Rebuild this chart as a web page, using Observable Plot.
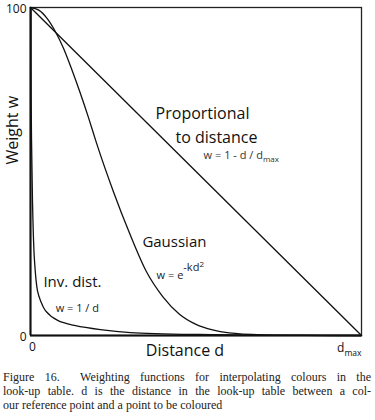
<!DOCTYPE html>
<html>
<head>
<meta charset="utf-8">
<script src="https://cdn.jsdelivr.net/npm/d3@7"></script>
<script src="https://cdn.jsdelivr.net/npm/@observablehq/plot@0.6"></script>
<style>
  body { margin: 0; background: #fff; width: 375px; }
  #chart svg { display: block; }
  .cap { font-family: "Liberation Serif", serif; font-size: 12px; line-height: 14px; color: #222; width: 368px; margin-left: 3px; }
  .cap div { text-align: justify; text-align-last: justify; white-space: nowrap; }
  .cap div.last { text-align-last: left; }
</style>
</head>
<body>
<div id="chart"></div>
<div class="cap" style="margin-top:5px">
  <div>Figure 16.&nbsp; Weighting functions for interpolating colours in the</div>
  <div>look-up table. d is the distance in the look-up table between a col-</div>
  <div class="last">our reference point and a point to be coloured</div>
</div>
<script>
// Proportional to distance
const linD = [0, 1];
const linW = [100, 0];
// Gaussian
const gaussD = [0, 0.025, 0.05, 0.075, 0.1, 0.125, 0.15, 0.175, 0.2, 0.25, 0.3, 0.35, 0.4, 0.45, 0.5, 0.55, 0.6, 0.7, 0.8, 0.9, 1.0];
const gaussW = [100, 99.2, 96.7, 92.7, 87.5, 81, 74, 66.5, 58.5, 44, 31, 19.5, 11.8, 6.5, 3.4, 1.7, 0.8, 0.2, 0.05, 0, 0];
// Inverse distance
const invD = [0.0015, 0.002, 0.006, 0.012, 0.021, 0.030, 0.045, 0.082, 0.136, 0.211, 0.302, 0.51, 0.82, 1.0];
const invW = [100, 71.6, 41, 22.9, 13.7, 10.7, 7.6, 4.6, 3.0, 1.8, 0.9, 0.3, 0.1, 0];
// ticks
const xTickValues = [0, 1];
const xTickLabels = ["0", "dmax"];
const yTickValues = [0, 100];
const yTickLabels = ["0", "100"];

const toRows = (xs, ys) => xs.map((x, i) => ({x, y: ys[i]}));
const lin = toRows(linD, linW);
const gauss = toRows(gaussD, gaussW);
const inv = toRows(invD, invW);

const lbl = (text, x, y, size, fill = "#111") => Plot.text([text], {x: () => x, y: () => y, text: d => d, textAnchor: "start", fontSize: size, fill});

const svg = Plot.plot({
  width: 375,
  height: 365,
  marginLeft: 30,
  marginRight: 14,
  marginTop: 7,
  marginBottom: 30,
  style: {fontFamily: "'Open Sans', sans-serif", background: "#fff", color: "#111"},
  x: {domain: [0, 1], axis: null},
  y: {domain: [0, 100], axis: null},
  marks: [
    Plot.frame({stroke: "#222", strokeWidth: 1.3}),
    Plot.ruleX([0], {stroke: "#111", strokeWidth: 2}),
    Plot.ruleY([0], {stroke: "#111", strokeWidth: 2}),
    Plot.line(lin, {x: "x", y: "y", stroke: "#111", strokeWidth: 1.3}),
    Plot.line(gauss, {x: "x", y: "y", stroke: "#111", strokeWidth: 1.3, curve: "monotone-x"}),
    Plot.line(inv, {x: "x", y: "y", stroke: "#111", strokeWidth: 1.3, curve: "catmull-rom"}),
    Plot.axisY(yTickValues, {tickSize: 0, tickPadding: 4, tickFormat: (d) => yTickLabels[yTickValues.indexOf(d)], fontSize: 12, label: null, dy: 2}),
    Plot.text([xTickValues[0]], {x: d => d, y: () => 0, text: d => xTickLabels[xTickValues.indexOf(d)], dy: 12, dx: 2, fontSize: 12, fill: "#111"}),
    Plot.text([xTickValues[1]], {x: d => d, y: () => 0, text: d => xTickLabels[xTickValues.indexOf(d)], dy: 13, textAnchor: "end", fontSize: 12, fill: "#111"}),
    Plot.text(["Distance d"], {frameAnchor: "bottom", dy: 20, dx: -11, fontSize: 16, fill: "#111", text: d => d}),
    Plot.text(["Weight w"], {frameAnchor: "left", rotate: -90, dx: -18, dy: -7, fontSize: 16, fill: "#111", text: d => d}),
    lbl("Proportional", 0.378, 67.7, 16),
    lbl("to distance", 0.438, 60.4, 16),
    lbl("w = 1 - d / dmax", 0.523, 54.9, 11, "#333"),
    lbl("Gaussian", 0.338, 28.4, 15),
    lbl("w = e-kd2", 0.381, 18.3, 11, "#222"),
    lbl("Inv. dist.", 0.039, 16.2, 15),
    lbl("w = 1 / d", 0.076, 8.2, 11, "#222")
  ]
});

// rich text: subscripts and superscripts
const rich = {
  "w = 1 - d / dmax": [["w = 1 - d / d", 0, null], ["max", 3, "8px"]],
  "dmax": [["d", 0, null], ["max", 4, "8.5px"]],
  "w = e-kd2": [["w = e", 0, null], ["-kd", -8, "11px"], ["2", -4, "8px"]]
};
d3.select(svg).selectAll("text").each(function () {
  const t = this.textContent;
  if (!rich[t]) return;
  const el = d3.select(this);
  el.text(null);
  for (const [s, dy, size] of rich[t]) {
    const ts = el.append("tspan").attr("dy", dy).text(s);
    if (size) ts.attr("font-size", size);
  }
});

document.getElementById("chart").appendChild(svg);
</script>
</body>
</html>
